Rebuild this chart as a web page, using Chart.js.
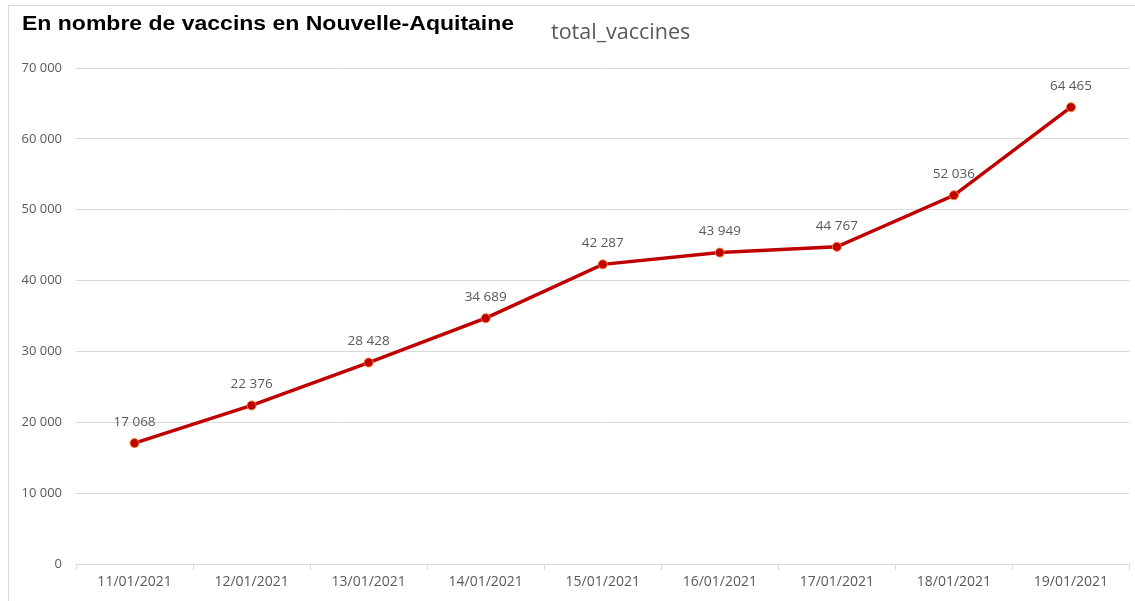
<!DOCTYPE html>
<html>
<head>
<meta charset="utf-8">
<script src="https://cdn.jsdelivr.net/npm/chart.js@4/dist/chart.umd.min.js"></script>
<style>
  html, body { margin: 0; padding: 0; background: #fff; }
  #wrap { position: relative; width: 1135px; height: 601px; overflow: hidden; }
  #frame { position: absolute; left: 8px; top: 5px; width: 1140px; height: 610px; border: 1px solid #d9d9d9; box-sizing: border-box; }
  #title { position: absolute; left: 22px; top: 12px; font: bold 20px "Liberation Sans", Arial, sans-serif; color: #000; white-space: nowrap;
           transform: scaleX(1.15); transform-origin: left top; }
  #series { position: absolute; left: 551px; top: 16px; font: 21.5px "Open Sans", sans-serif; color: #595959; white-space: nowrap; }
  canvas { position: absolute; left: 0; top: 0; }
</style>
</head>
<body>
<div id="wrap">
  <div id="frame"></div>
  <canvas id="chart" width="1135" height="601"></canvas>
  <div id="title">En nombre de vaccins en Nouvelle-Aquitaine</div>
  <div id="series">total_vaccines</div>
</div>
<script>
const dates = ["11/01/2021", "12/01/2021", "13/01/2021", "14/01/2021", "15/01/2021",
               "16/01/2021", "17/01/2021", "18/01/2021", "19/01/2021"];
const totalVaccines = [17068, 22376, 28428, 34689, 42287, 43949, 44767, 52036, 64465];

const LABEL_FONT = "Open Sans";
const GREY = "#595959";

// thousands with a space, like the french Excel format
function fmt(v) {
    return String(v).replace(/\B(?=(\d{3})+(?!\d))/g, " ");
}

// value labels above each point
const valueLabels = {
    id: "valueLabels",
    afterDatasetsDraw(chart) {
        const ctx = chart.ctx;
        const meta = chart.getDatasetMeta(0);
        ctx.save();
        ctx.font = "13.5px '" + LABEL_FONT + "'";
        ctx.fillStyle = GREY;
        ctx.textAlign = "center";
        ctx.textBaseline = "middle";
        meta.data.forEach((pt, i) => {
            ctx.fillText(fmt(totalVaccines[i]), pt.x, pt.y - 21);
        });
        ctx.restore();
    }
};

const ctx = document.getElementById("chart").getContext("2d");
new Chart(ctx, {
    type: "line",
    data: {
        labels: dates,
        datasets: [{
            label: "total_vaccines",
            data: totalVaccines,
            borderColor: "#c00000",
            borderWidth: 3.5,
            pointRadius: 4.5,
            pointBackgroundColor: "#c00000",
            pointBorderColor: "#f07c30",
            pointBorderWidth: 1,
            tension: 0
        }]
    },
    options: {
        responsive: false,
        animation: false,
        layout: { padding: { top: 68, right: 4, left: 0, bottom: 0 } },
        plugins: {
            legend: { display: false },
            tooltip: { enabled: false }
        },
        scales: {
            x: {
                offset: true,
                grid: {
                    offset: true,
                    drawOnChartArea: false,
                    drawTicks: true,
                    tickLength: 6,
                    color: "#d9d9d9"
                },
                border: { display: true, color: "#d9d9d9", width: 1 },
                ticks: {
                    color: GREY,
                    font: { family: LABEL_FONT, size: 14 },
                    padding: 4,
                    maxRotation: 0
                },
                afterFit(scale) { scale.height = 37; }
            },
            y: {
                min: 0,
                max: 70000,
                grid: { color: "#d9d9d9", drawTicks: false },
                border: { display: false },
                ticks: {
                    stepSize: 10000,
                    color: GREY,
                    font: { family: LABEL_FONT, size: 13 },
                    padding: 14,
                    callback: v => fmt(v)
                },
                afterFit(scale) { scale.width = 76; }
            }
        }
    },
    plugins: [valueLabels]
});
</script>
</body>
</html>
